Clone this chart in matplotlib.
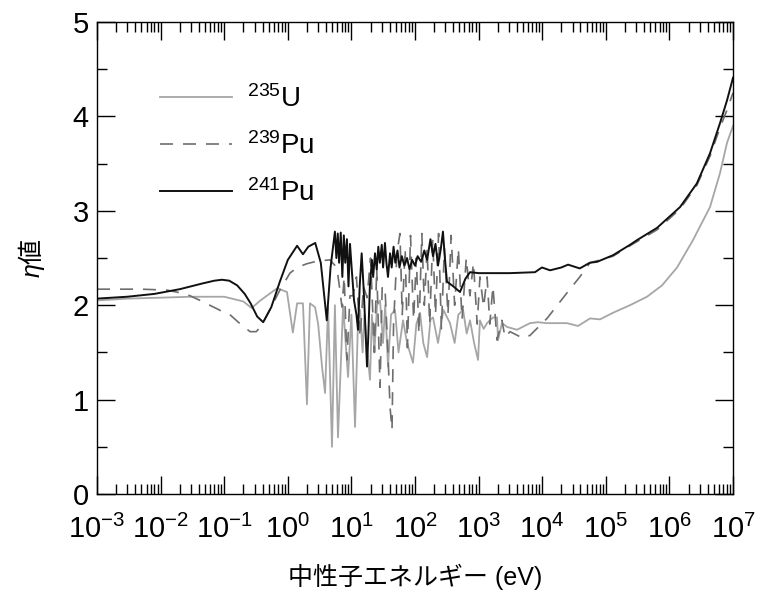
import matplotlib
matplotlib.use('Agg')
import matplotlib.pyplot as plt
from matplotlib.ticker import LogLocator, MultipleLocator

plt.rcParams['font.family'] = ['Liberation Sans', 'Noto Sans CJK JP']
plt.rcParams['mathtext.fontset'] = 'custom'
plt.rcParams['mathtext.rm'] = 'Liberation Sans'
plt.rcParams['mathtext.it'] = 'Liberation Sans:italic'

# 235U (eV, eta)
u235_e = [0.001, 0.003, 0.01, 0.03, 0.1, 0.2, 0.27, 0.37, 0.68, 0.97, 1.2, 1.4, 1.73,
          2.0, 2.23, 2.68, 3.0, 3.45, 3.85, 4.3, 4.95, 5.5, 6.15, 7.4, 8.85, 10, 11.4,
          12.7, 13.7, 15, 16, 17.6, 19.6, 21, 23, 25.3, 28.2, 31.4, 34, 37.6, 42, 48.5,
          55, 64.8, 75, 93, 105, 120, 135, 155, 175, 192, 230, 280, 355, 420, 480, 570,
          650, 733, 850, 980, 1050, 1200, 1360, 1680, 1950, 2020, 2330, 2800, 4020, 6430,
          8590, 11900, 24500, 36600, 56500, 81100, 1.3e5, 2.4e5, 4.45e5, 7.65e5, 1.32e6,
          2.35e6, 4.35e6, 6.25e6, 8.05e6, 1e7]
u235_eta = [2.05, 2.07, 2.08, 2.09, 2.09, 2.04, 1.97, 2.05, 2.18, 2.14, 1.71, 2.02, 2.02,
            0.95, 2.02, 1.98, 1.80, 1.35, 1.07, 1.98, 0.50, 2.00, 0.60, 2.00, 1.24, 1.90, 0.71,
            1.84, 1.95, 1.50, 1.90, 1.55, 1.21, 1.90, 1.50, 2.00, 2.05, 1.60, 2.00, 1.35, 1.90, 1.95,
            1.50, 1.84, 1.60, 1.39, 1.80, 1.92, 1.60, 1.45, 1.85, 1.87, 1.60, 1.95, 1.81, 1.60, 1.90, 1.95,
            1.70, 1.84, 1.60, 1.42, 1.84, 1.75, 1.81, 1.87, 1.87, 1.63, 1.81, 1.77, 1.74, 1.81,
            1.82, 1.81, 1.81, 1.78, 1.86, 1.85, 1.92, 2.00, 2.09, 2.21, 2.40,
            2.69, 3.04, 3.40, 3.72, 3.90]

# 239Pu
pu239_e = [0.001, 0.005, 0.0126, 0.025, 0.042, 0.096, 0.123, 0.18, 0.255, 0.32, 0.39, 0.52,
           0.75, 1.08, 1.4, 2.0, 3.0, 4.6, 5.9, 6.5, 7.1, 7.7, 8.5, 9.5, 10.6, 12, 13.7, 15.5,
           17.6, 20, 23, 25, 28.2, 30.5, 33.7, 37, 40.5, 43.5, 46, 52, 58, 63, 70, 76, 85, 95,
           105, 115, 128, 140, 155, 170, 190, 210, 235, 260, 290, 330, 370, 420, 480, 550, 640,
           730, 830, 950, 1050, 1200, 1360, 1500, 1680, 1950, 2330, 2600, 3120, 4990, 6430,
           11900, 24500, 39000, 56500, 81100, 1.3e5, 2.4e5, 6.4e5, 1.47e6, 2.7e6, 4.35e6,
           6.25e6, 8.05e6, 1e7]
pu239_eta = [2.17, 2.17, 2.16, 2.12, 2.05, 1.93, 1.90, 1.80, 1.72, 1.72, 1.79, 1.95,
             2.16, 2.34, 2.40, 2.44, 2.47, 2.48, 2.40, 2.19, 1.98, 2.30, 1.42, 2.10, 2.10, 2.30, 1.66, 2.20,
             2.08, 2.50, 1.50, 2.40, 1.13, 2.20, 2.19, 1.60, 0.92, 0.68, 1.80, 2.55, 2.76, 1.90, 2.60, 1.55, 2.74, 1.85,
             2.50, 1.70, 2.76, 2.00, 2.60, 1.80, 2.70, 1.90, 2.76, 1.75, 2.60, 1.90, 2.74, 2.00, 2.60, 1.85, 2.50,
             2.10, 2.45, 1.80, 2.30, 1.98, 2.30, 1.80, 2.20, 1.63, 1.84, 1.66, 1.72, 1.65, 1.68,
             1.86, 2.13, 2.30, 2.45, 2.48, 2.52, 2.63, 2.80, 3.02, 3.27, 3.58,
             3.88, 4.07, 4.25]

# 241Pu
pu241_e = [0.001, 0.003, 0.008, 0.02, 0.045, 0.07, 0.092, 0.12, 0.16, 0.21, 0.26, 0.33,
           0.41, 0.55, 0.75, 1.0, 1.4, 1.73, 2.1, 2.7, 3.3, 4.1, 4.7, 5.5, 5.8, 6.1, 6.4,
           6.8, 7.2, 7.6, 8.0, 8.5, 9.0, 9.5, 10.2, 11, 12, 12.7, 13.5, 14.5, 15.5, 16.5,
           17.6, 18.5, 19.5, 21, 22, 23.5, 25, 26.5, 28, 30, 31.5, 33.7, 35.5, 37.6, 40.5,
           43, 46, 49, 53, 57, 62, 68, 75, 82, 90, 100, 110, 125, 140, 155, 175, 192, 210,
           230, 255, 275, 295, 318, 400, 510, 620, 733, 1000, 3100, 7700, 9900, 13300,
           20000, 25500, 39000, 56000, 73000, 1.3e5, 2.4e5, 3.1e5, 6.4e5, 1.47e6, 2.7e6,
           4.35e6, 6.25e6, 8.05e6, 1e7]
pu241_eta = [2.07, 2.09, 2.12, 2.17, 2.23, 2.26, 2.27, 2.26, 2.21, 2.12, 2.02, 1.88,
             1.82, 1.98, 2.25, 2.48, 2.63, 2.54, 2.62, 2.66, 2.45, 1.84, 2.40, 2.78, 2.50, 2.76, 2.45,
             2.77, 2.30, 2.74, 2.45, 2.70, 2.20, 2.65, 2.35, 2.05, 1.90, 1.74, 2.20, 2.55, 2.20, 1.80,
             1.35, 1.70, 2.20, 2.48, 2.30, 2.55, 2.38, 2.62, 2.45, 2.64, 2.40, 2.66, 2.45, 2.30, 2.55,
             2.40, 2.62, 2.45, 2.58, 2.40, 2.52, 2.42, 2.50, 2.38, 2.48, 2.42, 2.52, 2.46, 2.58, 2.48, 2.70, 2.52, 2.65,
             2.42, 2.60, 2.78, 2.50, 2.25, 2.20, 2.14, 2.28, 2.35, 2.34, 2.34, 2.35, 2.40, 2.37,
             2.40, 2.43, 2.39, 2.45, 2.46, 2.53, 2.64, 2.69, 2.82, 3.04, 3.29,
             3.61, 3.93, 4.17, 4.41]

labels = [r'$^{\mathrm{235}}$U', r'$^{\mathrm{239}}$Pu', r'$^{\mathrm{241}}$Pu']

fig = plt.figure(figsize=(7.58, 5.98), dpi=100)
ax = fig.add_axes([0.128, 0.174, 0.839, 0.789])

ax.plot(u235_e, u235_eta, color='#a6a6a6', lw=1.3, label=labels[0])
ax.plot(pu239_e, pu239_eta, color='#6e6e6e', lw=1.2, dashes=(7.8, 6), label=labels[1])
ax.plot(pu241_e, pu241_eta, color='#111111', lw=1.4, label=labels[2])

ax.set_xscale('log')
ax.set_xlim(1e-3, 1e7)
ax.set_ylim(0, 5)
ax.xaxis.set_major_locator(LogLocator(base=10, numticks=20))
ax.xaxis.set_minor_locator(LogLocator(base=10, subs=range(2, 10), numticks=200))
ax.yaxis.set_major_locator(MultipleLocator(1))
ax.yaxis.set_minor_locator(MultipleLocator(0.5))
ax.tick_params(which='both', direction='in', top=True, right=True, width=1)
ax.tick_params(which='major', length=13, labelsize=21)
ax.tick_params(which='minor', length=7)
ax.tick_params(axis='x', pad=15)
ax.tick_params(axis='y', pad=6)
for s in ax.spines.values():
    s.set_linewidth(1)

ax.set_xlabel('中性子エネルギー (eV)', fontsize=18, labelpad=14)
ax.set_ylabel(r'$\eta$値', fontsize=18, labelpad=18, fontfamily='Noto Sans CJK JP')

ax.legend(loc='upper left', bbox_to_anchor=(0.099, 0.866), frameon=False, fontsize=20,
          handlelength=2.6, handletextpad=0.54, labelspacing=0.68, borderpad=0,
          borderaxespad=0)

fig.savefig('out.png', dpi=100)
